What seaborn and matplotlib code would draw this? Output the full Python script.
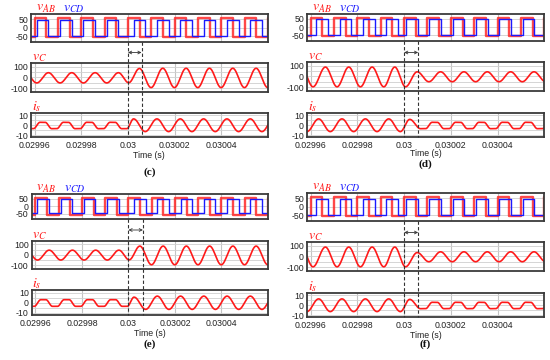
import numpy as np
import pandas as pd
import matplotlib
matplotlib.use("Agg")
import matplotlib.pyplot as plt
import seaborn as sns
from matplotlib import transforms
from matplotlib.lines import Line2D

# ---------------- data (times in microseconds relative to t = 0.03 s) ----------------
x_ticks = [0.02996, 0.02998, 0.03, 0.03002, 0.03004]
x_tick_labels = ["0.02996", "0.02998", "0.03", "0.03002", "0.03004"]
vsq_ticks = [50, 0, -50]
vc_ticks = [100, 0, -100]
is_ticks = [10, 0, -10]

vab_level = 56
vcd_level = 47

# switching instants of v_AB (first edge is a rising edge)
vab_edges_us = [-40, -35, -30, -25, -20, -15, -10, -5, 0, 5, 10, 15, 20, 25, 30, 35, 40, 45, 50, 55, 60]

# switching instants of v_CD (first edge rising)
vcd_edges_c = [-39.2, -34.2, -29.2, -24.2, -19.2, -14.2, -9.2, -4.2, 2.4, 7.4, 12.4, 17.4,
               22.4, 27.4, 32.4, 37.4, 42.4, 47.4, 52.4, 57.4]
vcd_edges_d = [-37.6, -32.6, -27.6, -22.6, -17.6, -12.6, -7.6, -2.6, 0.8, 5.8, 10.8, 15.8,
               20.8, 25.8, 30.8, 35.8, 40.8, 45.8, 50.8, 55.8]
vcd_edges_e = [-39.2, -34.2, -29.2, -24.2, -19.2, -14.2, -9.2, -4.2, 2.4, 7.4, 12.4, 17.4,
               22.4, 27.4, 32.4, 37.4, 42.4, 47.4, 52.4, 57.4]
vcd_edges_f = [-37.6, -32.6, -27.6, -22.6, -17.6, -12.6, -7.6, -2.6, 0.8, 5.8, 10.8, 15.8,
               20.8, 25.8, 30.8, 35.8, 40.8, 45.8, 50.8, 55.8]

# v_C turning points (time in us, value in V)
vc_t_c = [-44.1, -39.1, -34.1, -29.1, -24.1, -19.1, -14.1, -9.1, -4.1, 0.3, 4.9, 9.9, 14.9,
          19.9, 24.9, 29.9, 34.9, 39.9, 44.9, 49.9, 54.9, 59.9, 64.9]
vc_v_c = [43, -52, 43, -52, 43, -52, 43, -52, 43, -50, 82, -95, 84, -95, 84, -95, 84, -95,
          84, -95, 84, -95, 84]
vc_t_d = [-44.0, -39.0, -33.7, -28.7, -23.7, -18.7, -13.7, -8.7, -4.0, 0.6, 5.6, 10.6, 15.6,
          20.6, 25.6, 30.6, 35.6, 40.6, 45.6, 50.6, 55.6, 60.6]
vc_v_d = [86, -97, 86, -97, 86, -97, 86, -97, 86, -97, 42, -50, 42, -50, 42, -50, 42, -50,
          42, -50, 42, -50]
vc_t_e = [-44.1, -39.1, -34.1, -29.1, -24.1, -19.1, -14.1, -9.1, -4.1, 0.3, 4.9, 9.9, 14.9,
          19.9, 24.9, 29.9, 34.9, 39.9, 44.9, 49.9, 54.9, 59.9, 64.9]
vc_v_e = [45, -50, 45, -50, 45, -50, 45, -50, 45, -48, 84, -95, 84, -95, 84, -95, 84, -95,
          84, -95, 84, -95, 84]
vc_t_f = [-44.0, -39.0, -33.7, -28.7, -23.7, -18.7, -13.7, -8.7, -4.0, 0.6, 5.6, 10.6, 15.6,
          20.6, 25.6, 30.6, 35.6, 40.6, 45.6, 50.6, 55.6, 60.6]
vc_v_f = [86, -97, 86, -97, 86, -97, 86, -97, 86, -97, 35, -50, 42, -50, 42, -50, 42, -50,
          42, -50, 42, -50]

# i_s turning points (time in us, value in A)
is_t_c = [-42.7, -40.5, -37.7, -35.5, -32.7, -30.5, -27.7, -25.5, -22.7, -20.5, -17.7, -15.5,
          -12.7, -10.5, -7.7, -5.5, -2.7, -0.5, 2.4, 7.4, 12.4, 17.4, 22.4, 27.4, 32.4, 37.4,
          42.4, 47.4, 52.4, 57.4, 62.4]
is_v_c = [-3.5, -3.5, 3, 3, -3.5, -3.5, 3, 3, -3.5, -3.5, 3, 3, -3.5, -3.5, 3, 3, -3.5, -3.5,
          6.5, -6.5, 6.5, -6.5, 6.5, -6.5, 6.5, -6.5, 6.5, -6.5, 6.5, -6.5, 6.5]
is_t_d = [-46.6, -41.6, -36.6, -31.6, -26.6, -21.6, -16.6, -11.6, -6.6, -1.6, 2.4, 7.0, 9.2,
          12.0, 14.2, 17.0, 19.2, 22.0, 24.2, 27.0, 29.2, 32.0, 34.2, 37.0, 39.2, 42.0, 44.2,
          47.0, 49.2, 52.0, 54.2, 57.0, 59.2, 62.0]
is_v_d = [6.5, -6.5, 6.5, -6.5, 6.5, -6.5, 6.5, -6.5, 6.5, -6.5, 6, -3.5, -3.5, 3, 3, -3.5,
          -3.5, 3, 3, -3.5, -3.5, 3, 3, -3.5, -3.5, 3, 3, -3.5, -3.5, 3, 3, -3.5, -3.5, 3]
is_t_e = list(is_t_c)
is_v_e = [-3.5, -3.5, 3, 3, -3.5, -3.5, 3, 3, -3.5, -3.5, 3, 3, -3.5, -3.5, 3, 3, -3.5, -3.5,
          5.5, -6.5, 6.5, -6.5, 6.5, -6.5, 6.5, -6.5, 6.5, -6.5, 6.5, -6.5, 6.5]
is_t_f = list(is_t_d)
is_v_f = list(is_v_d)

step_change_us = {"c": 5.8, "d": 6.0, "e": 6.2, "f": 6.0}

# ---------------- figure ----------------
W, H = 550, 360
XMIN, XMAX = 0.0299583, 0.03006
sns.set_theme(style="white")
plt.rcParams["mathtext.fontset"] = "stix"
plt.rcParams["font.family"] = ["Liberation Sans", "DejaVu Sans"]

fig = plt.figure(figsize=(W / 100, H / 100), dpi=100)
fig.patch.set_facecolor("white")

RED = "#ff1a1a"
BLUE = "#1a1aff"


def to_s(us):
    return 0.03 + np.asarray(us, dtype=float) * 1e-6


def square(edges, level, t0=-42.0, t1=62.0):
    ts, vs = [t0], [-level]
    cur = -level
    for e in edges:
        ts += [e, e]
        vs += [cur, -cur]
        cur = -cur
    ts.append(t1)
    vs.append(cur)
    return to_s(ts), np.array(vs, float)


def smooth(tp, vp, n=24):
    """render turning points as a smooth (half-cosine) trace"""
    ts, vs = [], []
    for i in range(len(tp) - 1):
        s = np.linspace(0, 1, n, endpoint=False)
        w = (1 - np.cos(np.pi * s)) / 2
        ts.append(tp[i] + (tp[i + 1] - tp[i]) * s)
        vs.append(vp[i] + (vp[i + 1] - vp[i]) * w)
    ts.append([tp[-1]])
    vs.append([vp[-1]])
    return to_s(np.concatenate(ts)), np.concatenate(vs)


def px_axes(x0, y0, x1, y1):
    return fig.add_axes([x0 / W, 1 - y1 / H, (x1 - x0) / W, (y1 - y0) / H])


def style(ax, ylim, ticks, minor, show_x):
    ax.set_xlim(XMIN, XMAX)
    ax.set_ylim(*ylim)
    ax.set_yticks(ticks)
    ax.set_yticks(minor, minor=True)
    ax.set_xticks(x_ticks)
    ax.set_xticklabels(x_tick_labels if show_x else [])
    ax.set_yticklabels([str(t) for t in ticks])
    ax.grid(True, axis="x", which="major", color="#c4c4c4", lw=0.8)
    ax.grid(True, axis="y", which="both", color="#cfcfcf", lw=0.6)
    ax.set_axisbelow(True)
    for s in ax.spines.values():
        s.set_color("#3a3a3a")
        s.set_linewidth(1.3)
        s.set_visible(True)
    ax.tick_params(axis="both", which="both", length=0, labelsize=6.3, pad=2, colors="#222222")
    ax.tick_params(axis="x", pad=3)
    ax.set_xlabel("")
    ax.set_ylabel("")


panels = [
    dict(name="c", x0=30.7, x1=268.0, top=(14, 42), vc=(63, 92), i=(113, 137),
         vcd=vcd_edges_c, vct=vc_t_c, vcv=vc_v_c, ist=is_t_c, isv=is_v_c,
         time_y=155, lab_y=172.5, arrow_y=52.5),
    dict(name="d", x0=306.7, x1=544.3, top=(14, 41), vc=(62, 91), i=(113, 137),
         vcd=vcd_edges_d, vct=vc_t_d, vcv=vc_v_d, ist=is_t_d, isv=is_v_d,
         time_y=154, lab_y=164, arrow_y=52.5),
    dict(name="e", x0=31.5, x1=268.0, top=(194, 219), vc=(241, 269), i=(290, 315),
         vcd=vcd_edges_e, vct=vc_t_e, vcv=vc_v_e, ist=is_t_e, isv=is_v_e,
         time_y=333.5, lab_y=344, arrow_y=230),
    dict(name="f", x0=306.7, x1=544.3, top=(193, 221), vc=(242, 271), i=(293, 317),
         vcd=vcd_edges_f, vct=vc_t_f, vcv=vc_v_f, ist=is_t_f, isv=is_v_f,
         time_y=335, lab_y=344, arrow_y=232.5),
]

for p in panels:
    x0, x1 = p["x0"], p["x1"]
    ax_sq = px_axes(x0, p["top"][0], x1, p["top"][1])
    ax_vc = px_axes(x0, p["vc"][0], x1, p["vc"][1])
    ax_is = px_axes(x0, p["i"][0], x1, p["i"][1])

    # square waves
    t, v = square(vab_edges_us, vab_level)
    sns.lineplot(x=t, y=v, ax=ax_sq, color=RED, lw=1.7, alpha=0.8, sort=False, estimator=None)
    t, v = square(p["vcd"], vcd_level)
    sns.lineplot(x=t, y=v, ax=ax_sq, color=BLUE, lw=1.0, sort=False, estimator=None)
    style(ax_sq, (-84, 80), vsq_ticks, [], False)

    # capacitor voltage
    t, v = smooth(p["vct"], p["vcv"])
    sns.lineplot(x=t, y=v, ax=ax_vc, color=RED, lw=1.2, sort=False, estimator=None)
    style(ax_vc, (-136, 133), vc_ticks, [50, -50], False)

    # current
    t, v = smooth(p["ist"], p["isv"])
    sns.lineplot(x=t, y=v, ax=ax_is, color=RED, lw=1.2, sort=False, estimator=None)
    style(ax_is, (-12, 12.5), is_ticks, [5, -5], True)

    # signal labels
    fig.text((x0 + 5) / W, 1 - (p["top"][0] - 6) / H, r"$v_{AB}$", color=RED, fontsize=10,
             ha="left", va="center")
    fig.text((x0 + 32) / W, 1 - (p["top"][0] - 6) / H, r"$v_{CD}$", color=BLUE, fontsize=10,
             ha="left", va="center")
    fig.text((x0 + 1) / W, 1 - (p["vc"][0] - 6) / H, r"$v_{C}$", color=RED, fontsize=10,
             ha="left", va="center")
    fig.text((x0 + 1) / W, 1 - (p["i"][0] - 6) / H, r"$i_{s}$", color=RED, fontsize=10,
             ha="left", va="center")

    # x label and caption
    fig.text((x0 + x1) / 2 / W, 1 - p["time_y"] / H, "Time (s)", fontsize=6.3, ha="center",
             va="center", color="#222222")
    fig.text((x0 + x1) / 2 / W, 1 - p["lab_y"] / H, f"({p['name']})", fontsize=8,
             ha="center", va="center", family="Liberation Serif", weight="bold", color="#111111")

    # dashed markers and arrow
    blend = transforms.blended_transform_factory(ax_sq.transData, fig.transFigure)
    t_a = 0.03
    t_b = 0.03 + step_change_us[p["name"]] * 1e-6
    yb0 = 1 - p["top"][1] / H
    yb1 = 1 - p["i"][1] / H
    for tt in (t_a, t_b):
        fig.add_artist(Line2D([tt, tt], [yb0, yb1], transform=blend, color="#333333",
                              lw=0.8, ls=(0, (3, 2)), zorder=10))
    ya = 1 - p["arrow_y"] / H
    ax_sq.annotate("", xy=(t_b, ya), xytext=(t_a, ya), xycoords=blend, textcoords=blend,
                   arrowprops=dict(arrowstyle="<->", color="#333333", lw=0.6,
                                   shrinkA=0, shrinkB=0, mutation_scale=5),
                   annotation_clip=False)

fig.savefig("out.png", dpi=100, facecolor="white")
